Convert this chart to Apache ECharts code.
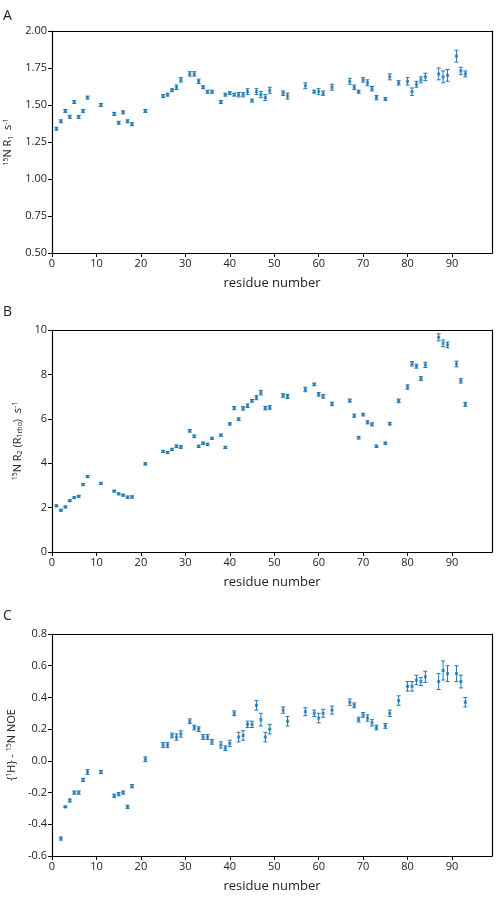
<!DOCTYPE html>
<html style="height: 100%">
<head>
    <meta charset="utf-8">
</head>
<body style="height: 100%; margin: 0; background: #fff">
<div id="container" style="height: 100%"></div>
<script type="text/javascript" src="https://cdn.jsdelivr.net/npm/echarts@6/dist/echarts.min.js"></script>
<script type="text/javascript">
var residues = [1,2,3,4,5,6,7,8,11,14,15,16,17,18,21,25,26,27,28,29,31,32,33,34,35,36,38,39,40,41,42,43,44,45,46,47,48,49,52,53,57,59,60,61,63,67,68,69,70,71,72,73,75,76,78,80,81,82,83,84,87,88,89,91,92,93];

var r1 = [1.34,1.39,1.46,1.42,1.52,1.42,1.46,1.55,1.50,1.44,1.38,1.45,1.39,1.37,1.46,1.56,1.57,1.60,1.62,1.67,1.71,1.71,1.66,1.62,1.59,1.59,1.52,1.57,1.58,1.57,1.57,1.57,1.59,1.53,1.59,1.57,1.55,1.60,1.58,1.56,1.63,1.59,1.59,1.58,1.62,1.66,1.62,1.59,1.67,1.65,1.61,1.55,1.54,1.69,1.65,1.66,1.59,1.64,1.67,1.69,1.71,1.69,1.70,1.83,1.73,1.71];
var r1Err = [0.01,0.01,0.01,0.01,0.01,0.01,0.01,0.01,0.01,0.01,0.01,0.01,0.01,0.01,0.01,0.01,0.01,0.01,0.015,0.015,0.015,0.015,0.015,0.01,0.01,0.01,0.01,0.01,0.01,0.01,0.015,0.015,0.02,0.01,0.02,0.02,0.02,0.02,0.015,0.02,0.02,0.01,0.02,0.015,0.02,0.02,0.015,0.01,0.015,0.02,0.015,0.015,0.01,0.02,0.015,0.025,0.025,0.02,0.02,0.025,0.04,0.04,0.04,0.04,0.025,0.02];

var r2 = [2.08,1.88,2.03,2.31,2.45,2.51,3.04,3.40,3.09,2.74,2.62,2.56,2.47,2.48,3.97,4.53,4.48,4.62,4.76,4.73,5.46,5.21,4.76,4.90,4.85,5.12,5.26,4.71,5.77,6.48,5.98,6.47,6.59,6.81,6.95,7.18,6.48,6.51,7.05,7.01,7.32,7.55,7.10,7.01,6.67,6.82,6.14,5.15,6.19,5.84,5.75,4.76,4.90,5.78,6.81,7.43,8.48,8.37,7.81,8.43,9.67,9.40,9.33,8.47,7.71,6.65];
var r2Err = [0.04,0.04,0.04,0.04,0.04,0.04,0.05,0.05,0.05,0.04,0.04,0.04,0.05,0.05,0.05,0.05,0.05,0.05,0.06,0.06,0.06,0.06,0.05,0.05,0.05,0.05,0.05,0.05,0.05,0.07,0.06,0.08,0.08,0.06,0.09,0.10,0.08,0.08,0.08,0.09,0.10,0.06,0.08,0.08,0.08,0.07,0.07,0.06,0.06,0.07,0.07,0.05,0.05,0.06,0.08,0.10,0.10,0.09,0.09,0.12,0.16,0.15,0.13,0.13,0.10,0.09];

var noeResidues = residues.slice(1);
var noe = [-0.49,-0.29,-0.25,-0.20,-0.20,-0.12,-0.07,-0.07,-0.22,-0.21,-0.20,-0.29,-0.16,0.01,0.10,0.10,0.16,0.15,0.17,0.25,0.21,0.20,0.15,0.15,0.12,0.10,0.08,0.11,0.30,0.15,0.16,0.23,0.23,0.35,0.26,0.15,0.20,0.32,0.25,0.31,0.30,0.27,0.30,0.32,0.37,0.35,0.26,0.29,0.27,0.24,0.21,0.22,0.30,0.38,0.47,0.47,0.51,0.50,0.53,0.50,0.57,0.55,0.55,0.50,0.37];
var noeErr = [0.01,0.005,0.01,0.01,0.01,0.01,0.015,0.01,0.01,0.01,0.01,0.01,0.01,0.015,0.015,0.015,0.015,0.02,0.02,0.015,0.015,0.015,0.015,0.015,0.015,0.02,0.015,0.02,0.015,0.03,0.03,0.02,0.02,0.03,0.04,0.03,0.03,0.02,0.03,0.025,0.02,0.03,0.025,0.025,0.02,0.015,0.015,0.015,0.02,0.02,0.015,0.015,0.02,0.03,0.03,0.03,0.03,0.025,0.035,0.05,0.06,0.05,0.05,0.04,0.03];

var blue = '#1f77b4';
var font = 'Open Sans';

function pairs(xs, ys, es) {
    var out = [];
    for (var i = 0; i < xs.length; i++) out.push([xs[i], ys[i], es[i]]);
    return out;
}

function renderErr(params, api) {
    var x = api.value(0), y = api.value(1), e = api.value(2);
    var top = api.coord([x, y + e]);
    var bot = api.coord([x, y - e]);
    var w = 2;
    var st = { stroke: blue, lineWidth: 1 };
    return {
        type: 'group',
        children: [
            { type: 'line', shape: { x1: top[0], y1: top[1], x2: bot[0], y2: bot[1] }, style: st },
            { type: 'line', shape: { x1: top[0] - w, y1: top[1], x2: top[0] + w, y2: top[1] }, style: st },
            { type: 'line', shape: { x1: bot[0] - w, y1: bot[1], x2: bot[0] + w, y2: bot[1] }, style: st }
        ]
    };
}

var tops = [31, 330, 634];
var grids = [], xAxes = [], yAxes = [], series = [];
var yCfg = [
    { min: 0.5, max: 2.0, interval: 0.25, dec: 2,
      name: '{sup|15}N R{sub|1}  s{sup|-1}' },
    { min: 0, max: 10, interval: 2, dec: 0,
      name: '{sup|15}N R{sub|2} (R{sub|1rho})  s{sup|-1}' },
    { min: -0.6, max: 0.8, interval: 0.2, dec: 1,
      name: '{{sup|1}H} - {sup|15}N NOE' }
];
var datas = [pairs(residues, r1, r1Err), pairs(residues, r2, r2Err), pairs(noeResidues, noe, noeErr)];

for (var g = 0; g < 3; g++) {
    grids.push({ left: 52, right: 6, top: tops[g], height: 222, outerBoundsMode: 'none', containLabel: false });
    var axLine = { show: true, onZero: false, lineStyle: { color: '#000', width: 1.2 } };
    xAxes.push({
        type: 'value', gridIndex: g, min: 0, max: 99, interval: 10,
        name: 'residue number', nameLocation: 'middle', nameGap: 24,
        nameTextStyle: { fontFamily: font, fontSize: 13, color: '#222' },
        axisLine: axLine, splitLine: { show: false },
        axisTick: { length: 4, lineStyle: { color: '#000' } },
        axisLabel: { fontFamily: font, fontSize: 11, color: '#222', margin: 5, showMaxLabel: false }
    });
    xAxes.push({
        type: 'value', gridIndex: g, position: 'top', min: 0, max: 99,
        axisLine: axLine, axisTick: { show: false }, axisLabel: { show: false }, splitLine: { show: false }
    });
    (function (c) {
        yAxes.push({
            type: 'value', gridIndex: g, min: c.min, max: c.max, interval: c.interval,
            name: c.name, nameLocation: 'middle', nameGap: c.dec === 0 ? 22 : 34, nameRotate: 90,
            nameTextStyle: {
                fontFamily: font, fontSize: 11, color: '#222',
                rich: { sup: { fontSize: 7, verticalAlign: 'top', padding: [0, 0, 5, 0], fontFamily: font },
                        sub: { fontSize: 7, verticalAlign: 'bottom', padding: [5, 0, 0, 0], fontFamily: font } }
            },
            axisLine: axLine, splitLine: { show: false },
            axisTick: { length: 4, lineStyle: { color: '#000' } },
            axisLabel: { fontFamily: font, fontSize: 11, color: '#222', margin: 5,
                formatter: function (v) { return v.toFixed(c.dec); } }
        });
    })(yCfg[g]);
    yAxes.push({
        type: 'value', gridIndex: g, position: 'right', min: yCfg[g].min, max: yCfg[g].max,
        axisLine: axLine, axisTick: { show: false }, axisLabel: { show: false }, splitLine: { show: false }
    });
    series.push({
        type: 'custom', xAxisIndex: 2 * g, yAxisIndex: 2 * g,
        renderItem: renderErr, data: datas[g], silent: true, animation: false
    });
    series.push({
        type: 'scatter', xAxisIndex: 2 * g, yAxisIndex: 2 * g,
        symbol: 'rect', symbolSize: 3, itemStyle: { color: blue },
        data: datas[g], silent: true, animation: false
    });
}

var myChart = echarts.init(document.getElementById('container'));
myChart.setOption({
    backgroundColor: '#fff',
    animation: false,
    grid: grids,
    xAxis: xAxes,
    yAxis: yAxes,
    series: series,
    graphic: [
        { type: 'text', left: 3, top: 9, style: { text: 'A', font: '14px "Open Sans"', fill: '#222' } },
        { type: 'text', left: 3, top: 305, style: { text: 'B', font: '14px "Open Sans"', fill: '#222' } },
        { type: 'text', left: 3, top: 609, style: { text: 'C', font: '14px "Open Sans"', fill: '#222' } }
    ]
});
</script>
</body>
</html>
